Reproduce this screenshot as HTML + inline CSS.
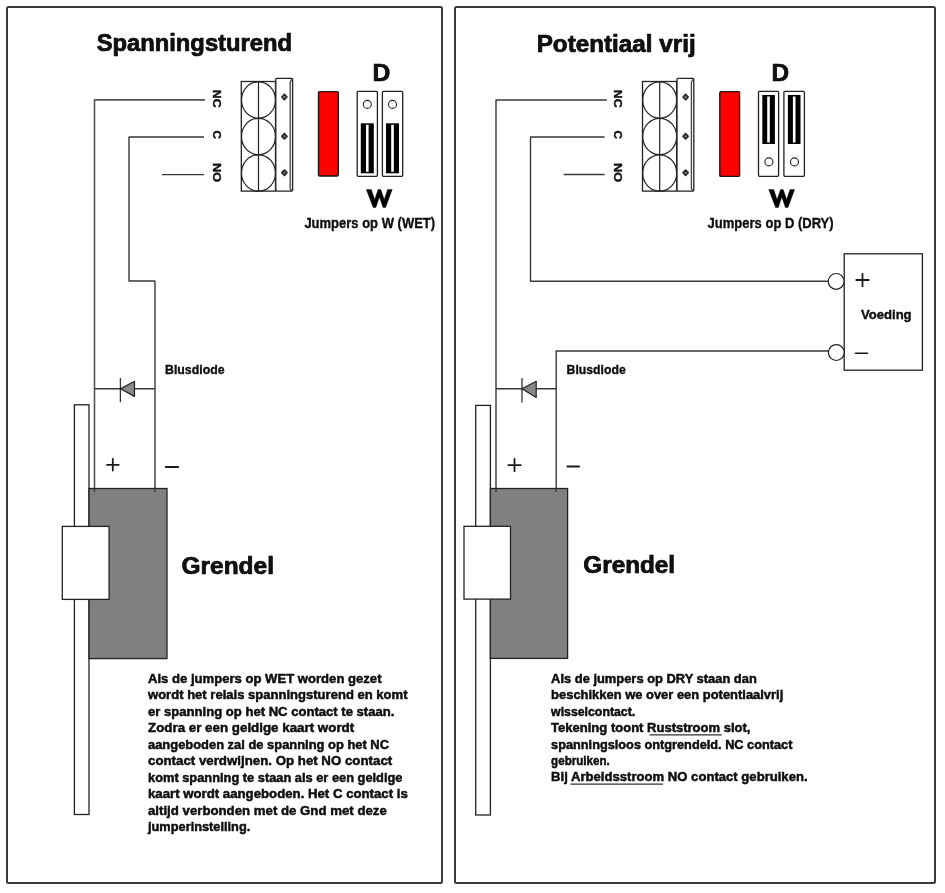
<!DOCTYPE html><html><head><meta charset="utf-8"><style>html,body{margin:0;padding:0;background:#fff;width:945px;height:893px;overflow:hidden}svg{display:block;will-change:transform}text{font-family:"Liberation Sans",sans-serif;fill:#111}</style></head><body>
<svg width="945" height="893" viewBox="0 0 945 893">
<rect x="7" y="7" width="435" height="876" rx="1.5" fill="none" stroke="#3a3a3a" stroke-width="2"/>
<rect x="455" y="7" width="480" height="876" rx="1.5" fill="none" stroke="#3a3a3a" stroke-width="2"/>
<rect x="241.3" y="81.5" width="34.2" height="109.6" fill="#fff" stroke="#222" stroke-width="1.3"/>
<ellipse cx="258.5" cy="100" rx="17" ry="18.2" fill="none" stroke="#222" stroke-width="1.2"/>
<ellipse cx="258.5" cy="136.5" rx="17" ry="18.2" fill="none" stroke="#222" stroke-width="1.2"/>
<ellipse cx="258.5" cy="173" rx="17" ry="18.2" fill="none" stroke="#222" stroke-width="1.2"/>
<line x1="258.5" y1="81.5" x2="258.5" y2="191" stroke="#222" stroke-width="1.2"/>
<rect x="275.8" y="78.3" width="16.8" height="112.8" rx="1" fill="#fff" stroke="#222" stroke-width="1.3"/>
<path d="M292.1,79 L290.2,82 V188.5 Q290.2,190 292.1,190.5" fill="none" stroke="#444" stroke-width="1.3"/>
<path d="M281.9,97 L284.4,94.4 L286.9,97 L284.4,99.6 Z" fill="#888" stroke="#2a2a2a" stroke-width="1.8" stroke-linejoin="round"/>
<path d="M281.9,136.3 L284.4,133.70000000000002 L286.9,136.3 L284.4,138.9 Z" fill="#888" stroke="#2a2a2a" stroke-width="1.8" stroke-linejoin="round"/>
<path d="M281.9,172.7 L284.4,170.1 L286.9,172.7 L284.4,175.29999999999998 Z" fill="#888" stroke="#2a2a2a" stroke-width="1.8" stroke-linejoin="round"/>
<text transform="translate(212.6,89.8) rotate(90)" x="0" y="0" font-size="11.6" font-weight="bold" stroke="#000" stroke-width="0.35" textLength="17.9" lengthAdjust="spacingAndGlyphs">NC</text>
<text transform="translate(212.6,130.5) rotate(90)" x="0" y="0" font-size="11.6" font-weight="bold" stroke="#000" stroke-width="0.35" textLength="8.5" lengthAdjust="spacingAndGlyphs">C</text>
<text transform="translate(212.6,163.0) rotate(90)" x="0" y="0" font-size="11.6" font-weight="bold" stroke="#000" stroke-width="0.35" textLength="19.0" lengthAdjust="spacingAndGlyphs">NO</text>
<rect x="642.5" y="81.5" width="34.2" height="109.6" fill="#fff" stroke="#222" stroke-width="1.3"/>
<ellipse cx="659.7" cy="100" rx="17" ry="18.2" fill="none" stroke="#222" stroke-width="1.2"/>
<ellipse cx="659.7" cy="136.5" rx="17" ry="18.2" fill="none" stroke="#222" stroke-width="1.2"/>
<ellipse cx="659.7" cy="173" rx="17" ry="18.2" fill="none" stroke="#222" stroke-width="1.2"/>
<line x1="659.7" y1="81.5" x2="659.7" y2="191" stroke="#222" stroke-width="1.2"/>
<rect x="677.0" y="78.3" width="16.8" height="112.8" rx="1" fill="#fff" stroke="#222" stroke-width="1.3"/>
<path d="M693.3,79 L691.4,82 V188.5 Q691.4,190 693.3,190.5" fill="none" stroke="#444" stroke-width="1.3"/>
<path d="M683.1,97 L685.6,94.4 L688.1,97 L685.6,99.6 Z" fill="#888" stroke="#2a2a2a" stroke-width="1.8" stroke-linejoin="round"/>
<path d="M683.1,136.3 L685.6,133.70000000000002 L688.1,136.3 L685.6,138.9 Z" fill="#888" stroke="#2a2a2a" stroke-width="1.8" stroke-linejoin="round"/>
<path d="M683.1,172.7 L685.6,170.1 L688.1,172.7 L685.6,175.29999999999998 Z" fill="#888" stroke="#2a2a2a" stroke-width="1.8" stroke-linejoin="round"/>
<text transform="translate(613.8,89.8) rotate(90)" x="0" y="0" font-size="11.6" font-weight="bold" stroke="#000" stroke-width="0.35" textLength="17.9" lengthAdjust="spacingAndGlyphs">NC</text>
<text transform="translate(613.8,130.5) rotate(90)" x="0" y="0" font-size="11.6" font-weight="bold" stroke="#000" stroke-width="0.35" textLength="8.5" lengthAdjust="spacingAndGlyphs">C</text>
<text transform="translate(613.8,163.0) rotate(90)" x="0" y="0" font-size="11.6" font-weight="bold" stroke="#000" stroke-width="0.35" textLength="19.0" lengthAdjust="spacingAndGlyphs">NO</text>
<text x="96.7" y="51.0" font-size="23.3" font-weight="bold" textLength="195.3" lengthAdjust="spacingAndGlyphs" stroke="#000" stroke-width="0.7">Spanningsturend</text>
<path d="M205,99.9 H94.5 V490" stroke="#555" stroke-width="1.6" fill="none" stroke-linejoin="round"/>
<path d="M204,137 H129 V281 H155 V490" stroke="#383838" stroke-width="1.4" fill="none" stroke-linejoin="round"/>
<path d="M162,174.6 H204" stroke="#383838" stroke-width="1.4" fill="none" stroke-linejoin="round"/>
<rect x="318.5" y="91.6" width="19.8" height="84.4" rx="1.2" fill="#f00" stroke="#1a1a1a" stroke-width="1.4"/>
<rect x="357.2" y="91.3" width="20.2" height="85" rx="1" fill="#fff" stroke="#222" stroke-width="1.3"/>
<circle cx="367.3" cy="104.4" r="4" fill="#fff" stroke="#222" stroke-width="1.1"/>
<rect x="360.8" y="123.3" width="13" height="50" fill="#000"/>
<rect x="366.0" y="124.8" width="2.6" height="47" fill="#fff"/>
<rect x="382.4" y="91.3" width="20.3" height="85" rx="1" fill="#fff" stroke="#222" stroke-width="1.3"/>
<circle cx="392.5" cy="104.4" r="4" fill="#fff" stroke="#222" stroke-width="1.1"/>
<rect x="386.0" y="123.3" width="13" height="50" fill="#000"/>
<rect x="391.2" y="124.8" width="2.6" height="47" fill="#fff"/>
<text x="372.4" y="80.7" font-size="24.5" font-weight="bold" textLength="17.8" lengthAdjust="spacingAndGlyphs" stroke="#000" stroke-width="0.7">D</text>
<path d="M366.3,189.6 L371.3,189.6 L374.7,199.6 L378.1,189.6 L380.8,189.6 L384.2,199.6 L387.6,189.6 L392.2,189.6 L385.6,207.5 L383.0,207.5 L379.4,197.0 L375.9,207.5 L373.2,207.5 Z" fill="#000" stroke="#000" stroke-width="0.4" stroke-linejoin="round"/>
<text x="304.4" y="227.5" font-size="14.8" font-weight="bold" textLength="130.7" lengthAdjust="spacingAndGlyphs" stroke="#000" stroke-width="0.35">Jumpers op W (WET)</text>
<path d="M94.5,388.8 H155" stroke="#383838" stroke-width="1.4" fill="none" stroke-linejoin="round"/>
<path d="M120.4,378 V402.3" stroke="#333" stroke-width="1.3"/>
<path d="M120.4,388.8 L134.5,381.2 V396.4 Z" fill="#888" stroke="#222" stroke-width="1.2" stroke-linejoin="round"/>
<text x="165.0" y="374.0" font-size="13.3" font-weight="bold" textLength="59.6" lengthAdjust="spacingAndGlyphs" stroke="#000" stroke-width="0.35">Blusdiode</text>
<path d="M107.0,464.8 H118.7 M112.8,458.9 V470.6" stroke="#1a1a1a" stroke-width="1.8" stroke-linecap="round" fill="none"/>
<path d="M165.8,467 H178.2" stroke="#1a1a1a" stroke-width="1.8" stroke-linecap="round" fill="none"/>
<rect x="74.4" y="404.8" width="14.6" height="409.7" fill="#fff" stroke="#222" stroke-width="1.3"/>
<rect x="89" y="488.5" width="78" height="170.1" fill="#808080" stroke="#222" stroke-width="1.3"/>
<rect x="62.3" y="526.4" width="46.8" height="73" fill="#fff" stroke="#222" stroke-width="1.3"/>
<path d="M94.5,488.5 V492 M155,488.5 V492" stroke="#383838" stroke-width="1.4" fill="none" stroke-linejoin="round"/>
<text x="181.5" y="574.2" font-size="23.3" font-weight="bold" textLength="92.5" lengthAdjust="spacingAndGlyphs" stroke="#000" stroke-width="0.7">Grendel</text>
<text x="148.0" y="682.9" font-size="12.8" font-weight="bold" textLength="233.5" lengthAdjust="spacingAndGlyphs" stroke="#000" stroke-width="0.45">Als de jumpers op WET worden gezet</text>
<text x="148.0" y="699.4" font-size="12.8" font-weight="bold" textLength="259.5" lengthAdjust="spacingAndGlyphs" stroke="#000" stroke-width="0.45">wordt het relais spanningsturend en komt</text>
<text x="148.0" y="715.9" font-size="12.8" font-weight="bold" textLength="246.4" lengthAdjust="spacingAndGlyphs" stroke="#000" stroke-width="0.45">er spanning op het NC contact te staan.</text>
<text x="148.0" y="732.3" font-size="12.8" font-weight="bold" textLength="206.2" lengthAdjust="spacingAndGlyphs" stroke="#000" stroke-width="0.45">Zodra er een geldige kaart wordt</text>
<text x="148.0" y="748.8" font-size="12.8" font-weight="bold" textLength="241.0" lengthAdjust="spacingAndGlyphs" stroke="#000" stroke-width="0.45">aangeboden zal de spanning op het NC</text>
<text x="148.0" y="765.3" font-size="12.8" font-weight="bold" textLength="244.2" lengthAdjust="spacingAndGlyphs" stroke="#000" stroke-width="0.45">contact verdwijnen. Op het NO contact</text>
<text x="148.0" y="781.8" font-size="12.8" font-weight="bold" textLength="254.5" lengthAdjust="spacingAndGlyphs" stroke="#000" stroke-width="0.45">komt spanning te staan als er een geldige</text>
<text x="148.0" y="798.3" font-size="12.8" font-weight="bold" textLength="259.8" lengthAdjust="spacingAndGlyphs" stroke="#000" stroke-width="0.45">kaart wordt aangeboden. Het C contact is</text>
<text x="148.0" y="814.7" font-size="12.8" font-weight="bold" textLength="238.8" lengthAdjust="spacingAndGlyphs" stroke="#000" stroke-width="0.45">altijd verbonden met de Gnd met deze</text>
<text x="148.0" y="831.2" font-size="12.8" font-weight="bold" textLength="102.3" lengthAdjust="spacingAndGlyphs" stroke="#000" stroke-width="0.45">jumperinstelling.</text>
<text x="536.7" y="51.7" font-size="23.3" font-weight="bold" textLength="159.0" lengthAdjust="spacingAndGlyphs" stroke="#000" stroke-width="0.7">Potentiaal vrij</text>
<path d="M606.8,100 H496 V490" stroke="#383838" stroke-width="1.4" fill="none" stroke-linejoin="round"/>
<path d="M604.6,137 H530.5 V281.3 H828.5" stroke="#383838" stroke-width="1.4" fill="none" stroke-linejoin="round"/>
<path d="M563.7,174.5 H604.6" stroke="#383838" stroke-width="1.4" fill="none" stroke-linejoin="round"/>
<path d="M828.5,351.0 H556.2 V490" stroke="#383838" stroke-width="1.4" fill="none" stroke-linejoin="round"/>
<rect x="719.8" y="91.6" width="19.8" height="84.8" rx="1.2" fill="#f00" stroke="#1a1a1a" stroke-width="1.4"/>
<rect x="758.5" y="91.3" width="20.1" height="85" rx="1" fill="#fff" stroke="#222" stroke-width="1.3"/>
<circle cx="768.9" cy="161.9" r="4" fill="#fff" stroke="#222" stroke-width="1.1"/>
<rect x="762.3" y="95" width="12.6" height="49" fill="#000"/>
<rect x="767.2" y="96.5" width="2.6" height="46" fill="#fff"/>
<rect x="783.9" y="91.3" width="20.5" height="85" rx="1" fill="#fff" stroke="#222" stroke-width="1.3"/>
<circle cx="794.5" cy="161.9" r="4" fill="#fff" stroke="#222" stroke-width="1.1"/>
<rect x="787.9" y="95" width="12.6" height="49" fill="#000"/>
<rect x="792.9" y="96.5" width="2.6" height="46" fill="#fff"/>
<text x="771.4" y="81.0" font-size="24.5" font-weight="bold" textLength="17.6" lengthAdjust="spacingAndGlyphs" stroke="#000" stroke-width="0.7">D</text>
<path d="M768.7,189.6 L773.7,189.6 L777.1,199.6 L780.5,189.6 L783.2,189.6 L786.6,199.6 L790.0,189.6 L794.6,189.6 L788.0,207.5 L785.4,207.5 L781.8,197.0 L778.3,207.5 L775.6,207.5 Z" fill="#000" stroke="#000" stroke-width="0.4" stroke-linejoin="round"/>
<text x="707.6" y="228.0" font-size="14.8" font-weight="bold" textLength="126.0" lengthAdjust="spacingAndGlyphs" stroke="#000" stroke-width="0.35">Jumpers op D (DRY)</text>
<rect x="844.2" y="253.8" width="78.2" height="116.4" fill="#fff" stroke="#222" stroke-width="1.3"/>
<circle cx="836.2" cy="281.4" r="7.9" fill="#fff" stroke="#222" stroke-width="1.2"/>
<circle cx="836.3" cy="352.6" r="7.9" fill="#fff" stroke="#222" stroke-width="1.2"/>
<path d="M856.3,280.0 H868.8 M862.5,273.8 V286.2" stroke="#1a1a1a" stroke-width="1.8" stroke-linecap="round" fill="none"/>
<path d="M855.5,353.3 H867.5" stroke="#1a1a1a" stroke-width="1.5" stroke-linecap="round" fill="none"/>
<text x="861.0" y="319.2" font-size="13" font-weight="bold" textLength="50.6" lengthAdjust="spacingAndGlyphs" stroke="#000" stroke-width="0.35">Voeding</text>
<path d="M496,388.7 H556.2" stroke="#383838" stroke-width="1.4" fill="none" stroke-linejoin="round"/>
<path d="M522,378 V402.4" stroke="#333" stroke-width="1.3"/>
<path d="M522,388.7 L536.2,381.3 V397.5 Z" fill="#888" stroke="#222" stroke-width="1.2" stroke-linejoin="round"/>
<text x="566.6" y="374.2" font-size="13.3" font-weight="bold" textLength="59.1" lengthAdjust="spacingAndGlyphs" stroke="#000" stroke-width="0.35">Blusdiode</text>
<path d="M508.3,465.1 H520.8 M514.5,459.0 V471.2" stroke="#1a1a1a" stroke-width="1.8" stroke-linecap="round" fill="none"/>
<path d="M567.4,466.5 H579.1" stroke="#1a1a1a" stroke-width="1.8" stroke-linecap="round" fill="none"/>
<rect x="475.7" y="405.4" width="14.7" height="409.6" fill="#fff" stroke="#222" stroke-width="1.3"/>
<rect x="490.4" y="488.5" width="77.2" height="169.9" fill="#808080" stroke="#222" stroke-width="1.3"/>
<rect x="464" y="526.3" width="46.5" height="72.8" fill="#fff" stroke="#222" stroke-width="1.3"/>
<path d="M496,488.5 V492 M556.2,488.5 V492" stroke="#383838" stroke-width="1.4" fill="none" stroke-linejoin="round"/>
<text x="583.3" y="573.2" font-size="23.3" font-weight="bold" textLength="91.8" lengthAdjust="spacingAndGlyphs" stroke="#000" stroke-width="0.7">Grendel</text>
<text x="551.1" y="683.0" font-size="12.8" font-weight="bold" textLength="205.7" lengthAdjust="spacingAndGlyphs" stroke="#000" stroke-width="0.45">Als de jumpers op DRY staan dan</text>
<text x="551.1" y="699.4" font-size="12.8" font-weight="bold" textLength="232.2" lengthAdjust="spacingAndGlyphs" stroke="#000" stroke-width="0.45">beschikken we over een potentiaalvrij</text>
<text x="551.1" y="715.8" font-size="12.8" font-weight="bold" textLength="84.1" lengthAdjust="spacingAndGlyphs" stroke="#000" stroke-width="0.45">wisselcontact.</text>
<text x="551.1" y="732.2" font-size="12.8" font-weight="bold" textLength="199.4" lengthAdjust="spacingAndGlyphs" stroke="#000" stroke-width="0.45">Tekening toont Ruststroom slot,</text>
<text x="551.1" y="748.6" font-size="12.8" font-weight="bold" textLength="241.3" lengthAdjust="spacingAndGlyphs" stroke="#000" stroke-width="0.45">spanningsloos ontgrendeld. NC contact</text>
<text x="551.1" y="765.0" font-size="12.8" font-weight="bold" textLength="58.7" lengthAdjust="spacingAndGlyphs" stroke="#000" stroke-width="0.45">gebruiken.</text>
<text x="551.1" y="781.4" font-size="12.8" font-weight="bold" textLength="256.5" lengthAdjust="spacingAndGlyphs" stroke="#000" stroke-width="0.45">Bij Arbeidsstroom NO contact gebruiken.</text>
<path d="M649.5,734.8 H721.7 M570.4,784.2 H663" stroke="#333" stroke-width="1.2"/>
</svg></body></html>
